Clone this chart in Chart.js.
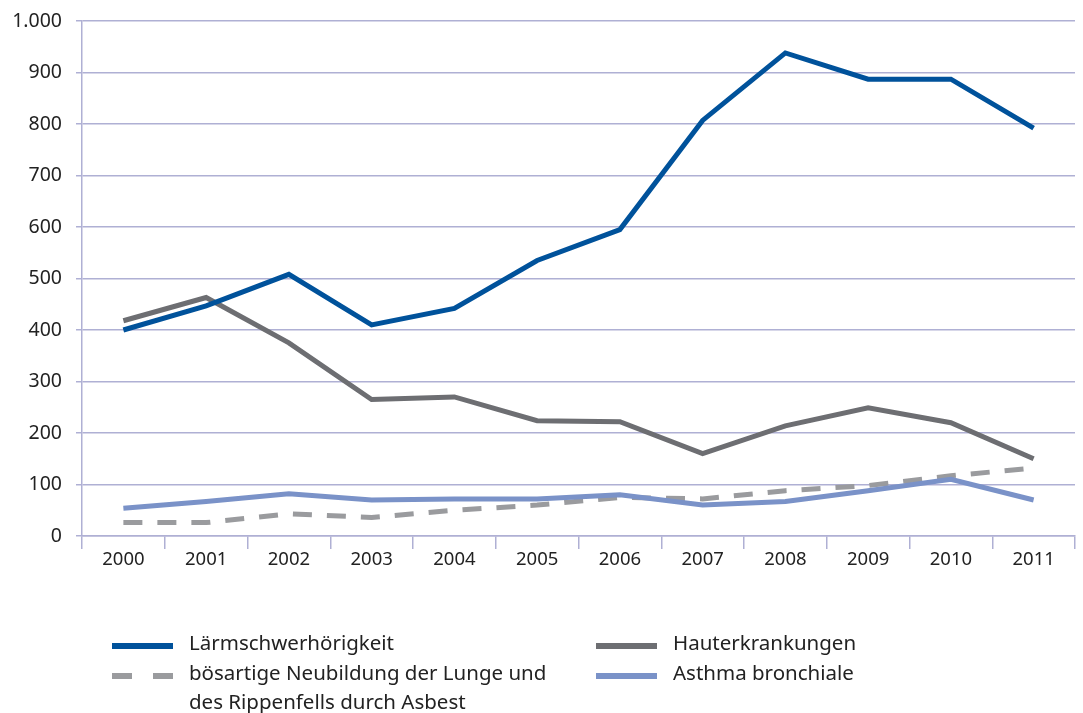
<!DOCTYPE html>
<html>
<head>
<meta charset="utf-8">
<script src="https://cdn.jsdelivr.net/npm/chart.js@4/dist/chart.umd.min.js"></script>
<style>
  body { margin: 0; background: #fff; font-family: "Noto Sans", sans-serif; }
  #wrap { position: absolute; left: 0; top: 0; width: 1083px; height: 600px; }
  #legend { position: absolute; left: 0; top: 0; width: 1083px; height: 713px; pointer-events: none; }
  .item { position: absolute; font-size: 20.5px; line-height: 29px; color: #222; }
  .swatch { position: absolute; width: 61px; height: 6px; }
</style>
</head>
<body>
<div id="wrap"><canvas id="chart"></canvas></div>
<div id="legend"></div>
<script>
const years = ["2000", "2001", "2002", "2003", "2004", "2005", "2006", "2007", "2008", "2009", "2010", "2011"];
const laerm = [400, 447, 508, 410, 442, 535, 595, 807, 938, 887, 887, 792];
const haut = [418, 463, 375, 265, 270, 224, 222, 160, 214, 249, 220, 150];
const asbest = [26, 26, 43, 36, 50, 60, 75, 72, 88, 98, 117, 132];
const asthma = [54, 67, 82, 70, 72, 72, 80, 60, 67, 88, 110, 70];
const seriesNames = ["Lärmschwerhörigkeit", "Hauterkrankungen", "bösartige Neubildung der Lunge und des Rippenfells durch Asbest", "Asthma bronchiale"];

const gridColor = "#afb0d4";

function fmt(v) {
    return String(v).replace(/\B(?=(\d{3})+(?!\d))/g, ".");
}

const ctx = document.getElementById("chart").getContext("2d");
const chart = new Chart(ctx, {
    type: "line",
    data: {
        labels: years,
        datasets: [
            { label: seriesNames[0], data: laerm, borderColor: "#00529b", borderWidth: 5, order: 1 },
            { label: seriesNames[1], data: haut, borderColor: "#6d6e72", borderWidth: 5, order: 2 },
            { label: seriesNames[2], data: asbest, borderColor: "#9a9b9e", borderWidth: 5, borderDash: [19, 15], order: 4 },
            { label: seriesNames[3], data: asthma, borderColor: "#7a92c8", borderWidth: 5, order: 3 }
        ]
    },
    options: {
        responsive: true,
        maintainAspectRatio: false,
        animation: false,
        layout: { padding: { top: 21, right: 8, left: 0, bottom: 0 } },
        elements: { point: { radius: 0 }, line: { tension: 0, borderCapStyle: "butt", borderJoinStyle: "miter" } },
        plugins: { legend: { display: false }, tooltip: { enabled: false } },
        scales: {
            x: {
                offset: true,
                grid: { offset: true, drawOnChartArea: false, drawTicks: true, tickLength: 13, color: gridColor, lineWidth: 1.5 },
                border: { display: true, color: gridColor, width: 1.5 },
                ticks: { color: "#222", font: { family: "Noto Sans", size: 18.5 }, padding: 0, maxRotation: 0 },
                afterFit: function (axis) { axis.height = 64; axis.paddingLeft = 0; axis.paddingRight = 0; }
            },
            y: {
                min: 0,
                max: 1000,
                grid: { color: gridColor, lineWidth: 1.5, tickLength: 6 },
                border: { display: true, color: gridColor, width: 1.5 },
                ticks: { stepSize: 100, color: "#222", font: { family: "Noto Sans", size: 19.5 }, padding: 14, callback: function (v) { return fmt(v); } },
                afterFit: function (axis) { axis.width = 82; axis.paddingTop = 0; axis.paddingBottom = 0; }
            }
        }
    }
});

// legend in two columns below the chart
const legendPos = [
    { x: 112, y: 628, ds: 0 },
    { x: 596, y: 628, ds: 1 },
    { x: 112, y: 658, ds: 2 },
    { x: 596, y: 658, ds: 3 }
];
const legend = document.getElementById("legend");
legendPos.forEach(function (p) {
    const ds = chart.data.datasets[p.ds];
    const sw = document.createElement("div");
    sw.className = "swatch";
    sw.style.left = p.x + "px";
    sw.style.top = (p.y + 15) + "px";
    if (ds.borderDash) {
        sw.style.background = "repeating-linear-gradient(90deg, " + ds.borderColor + " 0 20px, transparent 20px 41px)";
    } else {
        sw.style.background = ds.borderColor;
    }
    legend.appendChild(sw);
    const t = document.createElement("div");
    t.className = "item";
    t.style.left = (p.x + 77) + "px";
    t.style.top = p.y + "px";
    t.style.width = "390px";
    t.textContent = ds.label;
    legend.appendChild(t);
});
</script>
</body>
</html>
